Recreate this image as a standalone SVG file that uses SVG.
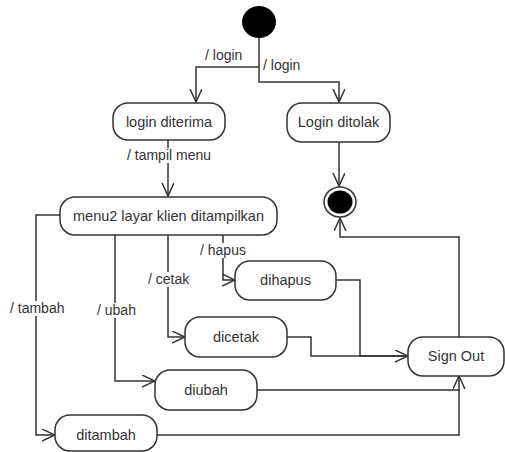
<svg xmlns="http://www.w3.org/2000/svg" width="505" height="452" viewBox="0 0 505 452">
<style>
.node rect{fill:#fff;stroke:#333;stroke-width:1.5}
.node text{font-family:"Liberation Sans",Arial,sans-serif;font-size:14.5px;fill:#333;text-anchor:middle}
.edge path{fill:none;stroke:#333;stroke-width:1.5}
.lbl rect{fill:#fff}
.lbl text{font-family:"Liberation Sans",Arial,sans-serif;font-size:14px;fill:#333}
</style>
<defs>
<marker id="arr" markerUnits="userSpaceOnUse" markerWidth="14" markerHeight="14" refX="13" refY="6" orient="auto">
<path d="M0,0 L13,6 L0,12" fill="none" stroke="#333" stroke-width="1.5"/>
</marker>
</defs>
<rect width="505" height="452" fill="#fff"/>
<g id="connectors" class="edge">
<path d="M259 38 V82 H339 V102" marker-end="url(#arr)"/>
<path d="M259 67 H196 V102" marker-end="url(#arr)"/>
<path d="M168 140 V196" marker-end="url(#arr)"/>
<path d="M339 142 V186" marker-end="url(#arr)"/>
<path d="M223 235 V280 H235" marker-end="url(#arr)"/>
<path d="M168 235 V337 H185" marker-end="url(#arr)"/>
<path d="M115 235 V381 H155" marker-end="url(#arr)"/>
<path d="M60 215 H36 V435 H55" marker-end="url(#arr)"/>
<path d="M336 280 H360 V356 H408" marker-end="url(#arr)"/>
<path d="M287 337 H311 V356 H408"/>
<path d="M257 390 H459 V376" marker-end="url(#arr)"/>
<path d="M157 435 H459 V390"/>
<path d="M459 337 V237 H340 V218" marker-end="url(#arr)"/>
<g class="lbl">
<rect x="203" y="48" width="41" height="15"/><text x="205" y="60">/ login</text>
<rect x="262" y="58" width="42" height="15"/><text x="263" y="70">/ login</text>
<rect x="125" y="148" width="95" height="15"/><text x="127" y="160">/ tampil menu</text>
<rect x="198" y="243" width="52" height="15"/><text x="200" y="255">/ hapus</text>
<rect x="146" y="272" width="49" height="15"/><text x="148" y="284">/ cetak</text>
<rect x="95" y="303" width="44" height="15"/><text x="97" y="315">/ ubah</text>
<rect x="8" y="301" width="61" height="15"/><text x="10" y="313">/ tambah</text>
</g>
</g>
<g id="start"><ellipse cx="259" cy="22" rx="17" ry="16" fill="#000"/></g>
<g id="end"><ellipse cx="340" cy="202" rx="16" ry="15" fill="#fff" stroke="#333" stroke-width="1.5"/><ellipse cx="340" cy="202" rx="12.5" ry="11.5" fill="#000"/></g>
<g id="login-diterima" class="node"><rect x="113" y="103" width="112" height="37" rx="15"/><text x="169" y="127">login diterima</text></g>
<g id="login-ditolak" class="node"><rect x="287" y="103" width="103" height="39" rx="15"/><text x="338.5" y="127">Login ditolak</text></g>
<g id="menu" class="node"><rect x="60" y="197" width="217" height="38" rx="15"/><text x="168.5" y="221">menu2 layar klien ditampilkan</text></g>
<g id="dihapus" class="node"><rect x="235" y="261" width="101" height="39" rx="15"/><text x="285.5" y="285">dihapus</text></g>
<g id="dicetak" class="node"><rect x="185" y="317" width="102" height="40" rx="15"/><text x="236" y="342">dicetak</text></g>
<g id="diubah" class="node"><rect x="155" y="370" width="102" height="40" rx="15"/><text x="206" y="395">diubah</text></g>
<g id="ditambah" class="node"><rect x="55" y="415" width="102" height="36" rx="15"/><text x="106" y="440">ditambah</text></g>
<g id="sign-out" class="node"><rect x="408" y="337" width="96" height="39" rx="15"/><text x="456" y="361">Sign Out</text></g>
</svg>
